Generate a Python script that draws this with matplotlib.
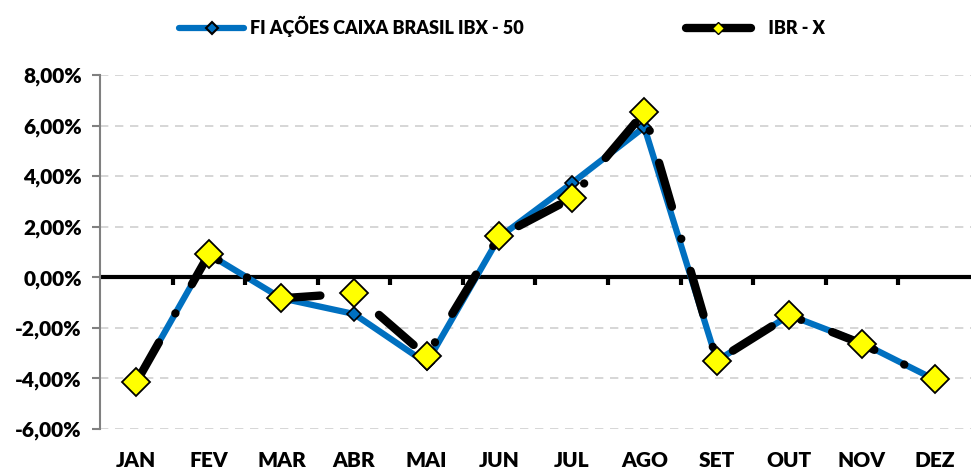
import numpy as np
import matplotlib
matplotlib.use('Agg')
import matplotlib.pyplot as plt
from matplotlib.lines import Line2D

months = ['JAN', 'FEV', 'MAR', 'ABR', 'MAI', 'JUN', 'JUL', 'AGO', 'SET', 'OUT', 'NOV', 'DEZ']
fundo = [-4.15, 0.91, -0.83, -1.45, -3.40, 1.58, 3.72, 5.94, -3.30, -1.50, -2.60, -4.04]
ibrx = [-4.15, 0.91, -0.83, -0.63, -3.12, 1.62, 3.13, 6.53, -3.30, -1.50, -2.63, -4.04]
fundo_name = 'FI AÇÕES CAIXA BRASIL IBX - 50'
ibrx_name = '   IBR - X'
yticks = [-6, -4, -2, 0, 2, 4, 6, 8]

plt.rcParams['font.family'] = ['Lato', 'DejaVu Sans']
plt.rcParams['font.weight'] = 'heavy'

fig = plt.figure(figsize=(9.73, 4.73), dpi=100)
ax = fig.add_axes([0.1028, 0.093, 0.895, 0.7484])

x = np.arange(len(months))
ax.plot(x, fundo, color='#0070C0', lw=4.5, marker='D', ms=7.5,
        mfc='#0070C0', mec='black', mew=1.2, solid_joinstyle='round', zorder=3)
ax.plot(x, ibrx, color='black', lw=6, marker='D', ms=14,
        mfc='#FFFF00', mec='black', mew=1.3,
        linestyle=(0, (5.5, 4, 0.01, 4)), dash_capstyle='round', zorder=4)

ax.set_xlim(-0.5, len(months) - 0.5)
ax.set_ylim(-6, 8)
ax.set_yticks(yticks)
ax.set_yticklabels(['{:.2f}%'.format(v).replace('.', ',') for v in yticks])
ax.set_xticks(x)
ax.set_xticklabels(months)

ax.grid(axis='y', color='#D0D0D0', linestyle=(0, (5, 4)), lw=1.2)
ax.set_axisbelow(True)

# zero line with category separator ticks
ax.axhline(0, color='black', lw=3, zorder=2)
ax.vlines(np.arange(len(months) - 1) + 0.5, -0.3, 0, color='black', lw=3, zorder=2)

for s in ['top', 'right', 'bottom']:
    ax.spines[s].set_visible(False)
ax.spines['left'].set_color('#808080')
ax.spines['left'].set_linewidth(1.5)
ax.tick_params(axis='y', colors='#808080', length=6, width=1.5, labelsize=15,
               labelcolor='black', pad=7)
ax.tick_params(axis='x', length=0, labelsize=15, pad=16)

handles = [
    Line2D([], [], color='#0070C0', lw=4.5, solid_capstyle='round', marker='D', ms=6,
           mfc='#0070C0', mec='black', mew=1.5),
    Line2D([], [], color='black', lw=6, solid_capstyle='round', marker='D', ms=6,
           mfc='#FFFF00', mec='black', mew=1.0),
]
fig.legend(handles, [fundo_name, ibrx_name], loc='upper center',
           bbox_to_anchor=(0.516, 1.0), ncol=2, frameon=False,
           fontsize=13, columnspacing=9.0, handlelength=3.6, handletextpad=0.3)

fig.savefig('out.png', dpi=100)
